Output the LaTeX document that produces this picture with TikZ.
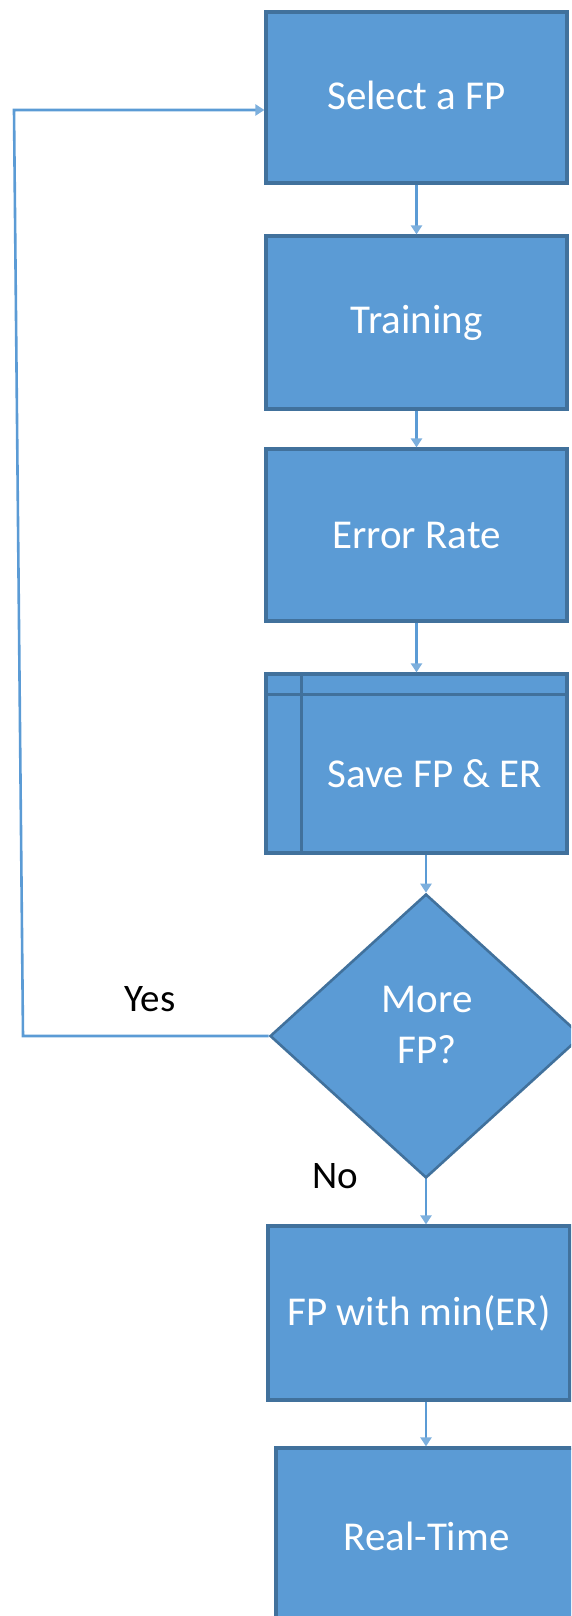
\documentclass[tikz,border=0pt]{standalone}
\usepackage{fontspec}
\setmainfont{Carlito}
\usetikzlibrary{arrows.meta,shapes.geometric}
\definecolor{boxfill}{HTML}{5B9BD5}
\definecolor{boxline}{HTML}{41719C}
\definecolor{connline}{HTML}{5B9BD5}
\tikzset{
  procbox/.style={rectangle, draw=boxline, fill=boxfill, line width=3.2pt,
    inner sep=0pt, minimum width=301pt, text=white,
    font=\fontsize{41}{50}\selectfont},
  decbox/.style={diamond, draw=boxline, fill=boxfill, line width=2.6pt,
    inner sep=0pt, minimum width=312pt, minimum height=284pt},
  boxtext/.style={text=white, align=center, inner sep=0pt,
    font=\fontsize{41}{51}\selectfont},
  edgetext/.style={text=black, inner sep=0pt, font=\fontsize{39}{46}\selectfont},
  conn/.style={draw=connline, line width=2.6pt,
    -{Triangle[width=11pt,length=9pt,color=connline!80!white]}},
}
\begin{document}
\begin{tikzpicture}[x=1pt,y=-1pt]
\useasboundingbox (0,0) rectangle (571,1616);
\clip (0,0) rectangle (571,1616);

% process steps
\node[procbox, minimum height=171pt] (select) at (416.5,97.5) {\raisebox{4pt}{Select a FP}};
\node[procbox, minimum height=173pt] (train) at (416.5,322.5) {Training};
\node[procbox, minimum height=172pt] (error) at (416.5,535) {Error Rate};
\node[procbox, minimum height=179pt] (save) at (416.5,763.5) {};
\draw[boxline, line width=2.4pt]
  ([xshift=37pt]save.north west) -- ([xshift=37pt]save.south west);
\draw[boxline, line width=2.4pt]
  ([yshift=-22pt]save.north west) -- ([yshift=-22pt]save.north east);
\node[boxtext] (savetxt) at (435,774) {Save FP \& ER};

% decision
\node[decbox] (more) at (426,1036) {};
\node[boxtext] (moretxt) at (427,1025) {More\\FP?};

\node[procbox, minimum width=302pt, minimum height=174pt] (best) at (419,1313) {FP with min(ER)};
\node[procbox, minimum height=176pt] (real) at (426.5,1536) {Real-Time};

% connectors
\draw[conn] (select.south) -- (train.north);
\draw[conn] (train.south) -- (error.north);
\draw[conn] (error.south) -- (save.north);
\draw[conn] (save.south -| more.north) -- (more.north);
\draw[conn] (more.south) -- (best.north -| more.south);
\draw[conn] (best.south -| more.south) -- (real.north -| more.south);

% loop back for further feature patterns
\coordinate (yesbot) at (23,1036);
\coordinate (yestop) at (14,110);
\draw[conn] (more.west) -- (yesbot) -- (yestop) -- (yestop -| select.west);

\node[edgetext] (yes) at (150,999) {Yes};
\node[edgetext] (no) at (335,1176) {No};
\end{tikzpicture}
\end{document}
